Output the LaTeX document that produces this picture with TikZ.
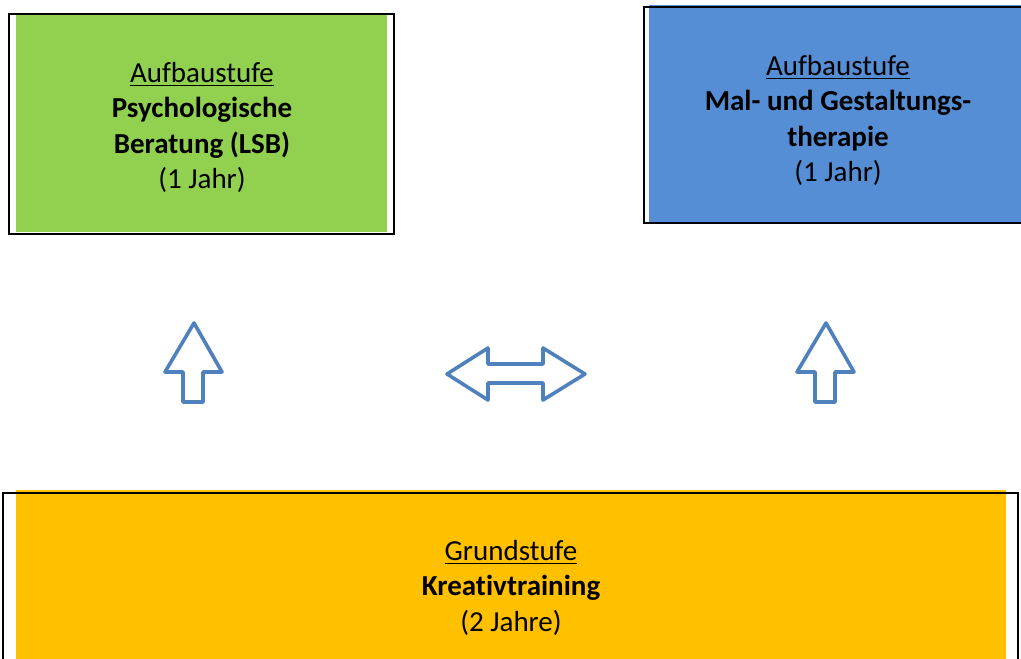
\documentclass[tikz,border=0pt]{standalone}
\usepackage{fontspec}
\setmainfont[Ligatures=CommonOff]{Carlito}
\definecolor{boxgreen}{HTML}{92D050}
\definecolor{boxblue}{HTML}{558ED5}
\definecolor{boxyellow}{HTML}{FFC000}
\definecolor{arrowblue}{HTML}{4F81BD}
\newcommand\myul[1]{\setbox0\hbox{#1}\rlap{\rule[-4.4pt]{\wd0}{1.8pt}}\box0}
\tikzset{
  frame/.style={draw=black, line width=2.2pt},
  label/.style={align=center, anchor=base, inner sep=0pt,
    font=\fontsize{29}{35.5}\selectfont},
  hollowarrow/.style={draw=arrowblue, fill=white, line width=3.6pt, line join=round}
}
\begin{document}
\begin{tikzpicture}[x=1pt,y=-1pt]
\useasboundingbox (0,0) rectangle (1021,659);
\begin{scope}
\clip (0,0) rectangle (1021,659);
% green box
\fill[boxgreen] (16,15) rectangle (387,232);
\draw[frame] (9,14) rectangle (394,234);
% blue box
\fill[boxblue] (649,5) rectangle (1021,222);
\draw[frame] (1022,7) -- (644,7) -- (644,223) -- (1022,223);
% yellow box
\fill[boxyellow] (16,490) rectangle (1006,660);
\draw[frame] (3,661) -- (3,493) -- (1018,493) -- (1018,661);
\end{scope}
\node[label] (green) at (202,188.5) {\myul{Aufbaustufe}\\\textbf{Psychologische}\\\textbf{Beratung (LSB)}\\(1 Jahr)};
\node[label] (blue) at (838,181.5) {\myul{Aufbaustufe}\\\textbf{Mal- und Gestaltungs-}\\\textbf{therapie}\\(1 Jahr)};
\node[label] (yellow) at (511,631) {\myul{Grundstufe}\\\textbf{Kreativtraining}\\(2 Jahre)};
% arrows
\draw[hollowarrow] (194,323) -- (222,372) -- (203,372) -- (203,402) -- (183,402) -- (183,372) -- (165,372) -- cycle;
\draw[hollowarrow] (826,323) -- (854,372) -- (835,372) -- (835,402) -- (815,402) -- (815,372) -- (797,372) -- cycle;
\draw[hollowarrow] (447,374) -- (488,348) -- (488,364) -- (543,364) -- (543,348) -- (585,374) -- (543,400) -- (543,383) -- (488,383) -- (488,400) -- cycle;
\end{tikzpicture}
\end{document}
